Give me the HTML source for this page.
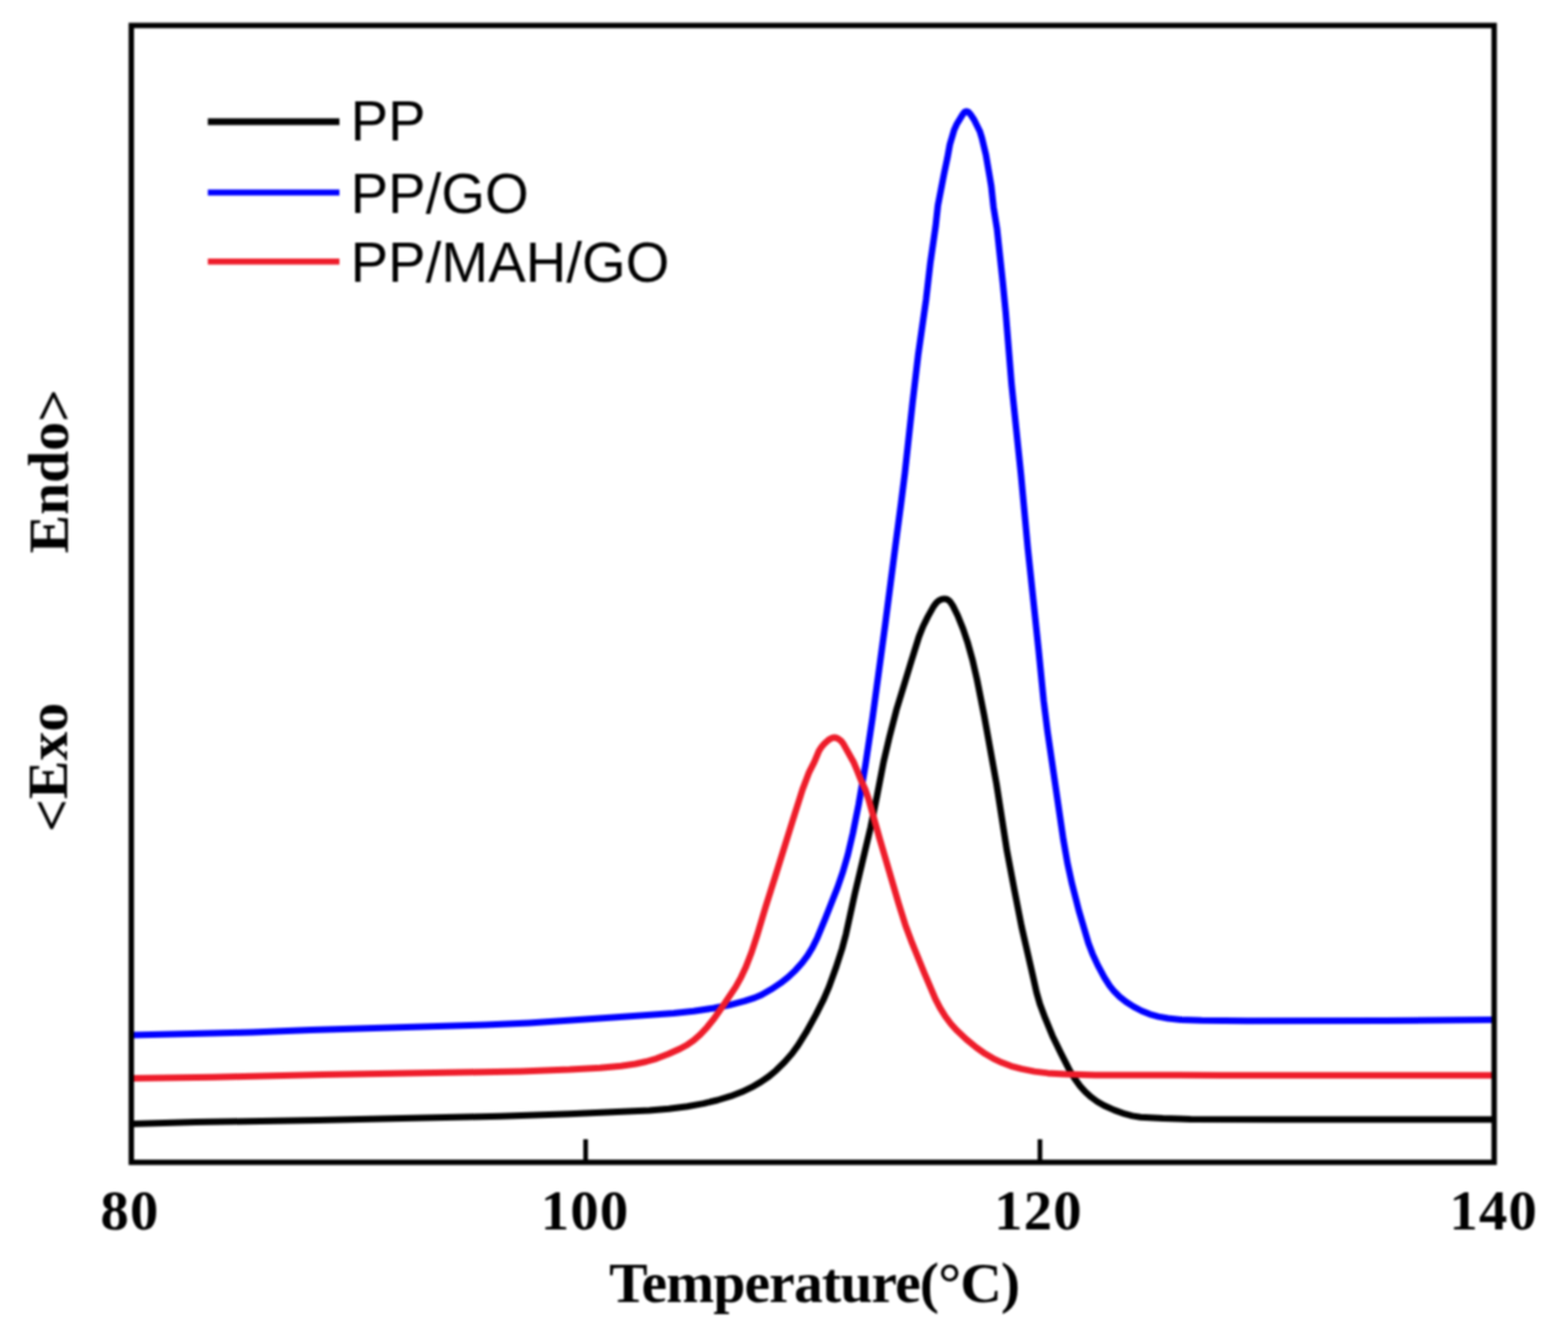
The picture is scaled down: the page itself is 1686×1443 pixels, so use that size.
<!DOCTYPE html>
<html><head><meta charset="utf-8"><title>DSC curves</title>
<style>
html,body{margin:0;padding:0;background:#fff;}
body{width:1686px;height:1443px;overflow:hidden;position:relative;}
svg{position:absolute;left:0;top:0;}
#w{position:absolute;left:0;top:0;width:1686px;height:1443px;filter:blur(1px);}
.serif{font-family:"Liberation Serif","Times New Roman",serif;font-weight:bold;fill:#000;}
.sans{font-family:"Liberation Sans",Arial,sans-serif;fill:#000;}
</style></head>
<body>
<div id="w">
<svg width="1686" height="1443" viewBox="0 0 1686 1443">
<g fill="none" stroke-width="7" stroke-linejoin="round" stroke-linecap="butt">
<path d="M142.0 1208.6L210.5 1206.6L341.0 1204.5L538.4 1200.3L612.4 1197.7L698.3 1193.9L719.2 1192.2L739.0 1189.7L756.2 1186.6L771.3 1183.0L785.6 1178.7L797.8 1174.1L808.1 1169.2L818.1 1163.4L826.7 1157.5L834.4 1151.1L843.6 1142.0L851.5 1133.0L858.0 1124.2L866.7 1110.2L877.4 1090.9L885.7 1074.4L891.4 1061.1L899.2 1039.5L905.5 1020.0L909.6 1004.6L919.1 961.2L936.1 889.7L943.1 855.4L950.1 819.1L956.3 792.8L963.9 763.3L972.1 736.5L979.1 713.5L988.0 684.9L992.4 673.7L997.5 663.4L1003.8 652.1L1006.8 648.1L1009.4 645.9L1012.5 644.4L1015.3 643.9L1017.7 644.2L1019.8 645.3L1021.9 647.3L1024.6 651.4L1029.7 661.7L1035.5 676.1L1040.3 690.3L1045.8 710.0L1050.6 731.0L1058.2 769.2L1071.5 843.0L1082.7 914.7L1090.9 957.9L1098.4 996.1L1109.9 1046.3L1114.6 1067.3L1118.2 1079.8L1123.8 1094.7L1131.6 1113.7L1140.8 1132.6L1150.1 1150.8L1155.8 1160.2L1161.4 1167.8L1167.1 1174.1L1173.4 1179.8L1179.8 1184.5L1187.2 1188.7L1198.1 1193.6L1209.4 1197.7L1217.6 1199.9L1226.4 1201.2L1250.4 1202.6L1280.4 1203.4L1374.4 1203.8L1607.0 1203.8" stroke="#000"/>
<path d="M142.0 1113.0L228.0 1111.0L271.0 1109.9L334.4 1107.4L521.8 1102.0L568.8 1099.9L652.1 1094.5L724.4 1089.4L745.8 1087.3L767.6 1084.0L783.7 1080.8L800.6 1076.4L811.5 1072.9L818.8 1069.7L829.2 1063.8L839.2 1057.2L847.4 1050.7L855.4 1043.2L862.4 1035.4L868.4 1027.4L873.6 1018.9L878.9 1008.2L887.1 988.4L900.7 953.9L906.5 936.9L911.6 919.2L917.1 895.8L923.2 865.4L930.5 823.1L938.1 772.6L951.7 672.5L962.7 587.8L968.8 541.7L973.0 508.5L981.2 433.4L987.2 382.3L995.8 321.9L1000.4 282.2L1006.0 243.6L1008.5 220.8L1015.0 187.4L1018.6 170.3L1021.3 155.5L1025.8 140.2L1028.6 133.8L1034.8 123.6L1036.8 120.9L1038.2 119.9L1039.7 119.8L1041.2 120.5L1043.5 122.9L1047.4 128.7L1053.6 141.3L1055.8 148.4L1060.1 166.4L1064.0 189.0L1065.9 200.4L1068.3 222.7L1072.1 246.4L1078.3 304.1L1081.4 335.9L1087.7 413.2L1097.8 510.1L1105.2 589.8L1116.8 699.1L1122.2 753.4L1126.3 786.1L1143.4 902.9L1147.8 928.0L1152.7 950.4L1160.0 979.0L1170.3 1014.0L1174.7 1025.6L1180.4 1037.9L1187.5 1051.1L1193.1 1059.9L1198.1 1066.1L1203.8 1071.7L1210.8 1077.3L1218.8 1082.4L1227.6 1087.0L1236.4 1090.6L1245.5 1093.1L1255.8 1095.0L1269.7 1096.4L1292.1 1097.3L1341.1 1097.8L1488.6 1097.6L1607.0 1096.5" stroke="#0000ff"/>
<path d="M142.0 1159.5L228.5 1158.3L347.0 1155.5L482.4 1153.3L560.4 1151.9L612.4 1150.1L645.3 1148.2L667.7 1146.2L683.1 1144.0L694.8 1141.5L705.8 1138.3L718.8 1133.3L731.1 1127.8L739.4 1123.2L745.9 1118.6L753.0 1112.3L760.5 1104.3L768.0 1095.0L778.6 1079.8L791.1 1061.1L796.7 1051.1L802.0 1039.8L808.1 1024.0L813.7 1006.9L823.2 975.3L834.3 940.1L852.2 882.8L862.9 849.0L870.0 830.3L875.7 819.2L880.5 807.7L883.1 803.5L886.7 799.3L891.2 795.4L894.2 793.7L896.5 793.1L898.8 793.3L901.5 794.5L904.2 796.5L906.7 799.6L917.7 819.2L921.0 827.0L925.7 838.6L930.6 849.5L934.1 859.9L945.7 901.3L966.1 970.9L973.7 995.2L980.7 1013.9L994.1 1046.8L1005.9 1074.4L1010.7 1083.7L1016.5 1093.0L1022.5 1101.0L1029.2 1108.3L1038.7 1117.2L1049.5 1126.1L1059.3 1133.1L1067.8 1138.1L1077.3 1142.6L1087.1 1146.3L1098.6 1149.4L1112.3 1152.1L1126.7 1153.9L1145.1 1155.1L1177.6 1155.9L1312.6 1156.2L1607.0 1156.2" stroke="#ee1c2a"/>

</g>
<rect x="141.2" y="27.4" width="1465.4" height="1222.4" fill="none" stroke="#000" stroke-width="5.8"/>
<g stroke="#000" stroke-width="5">
<line x1="629.7" y1="1225" x2="629.7" y2="1249"/>
<line x1="1118.2" y1="1225" x2="1118.2" y2="1249"/>
</g>
<g class="serif" font-size="61" text-anchor="middle" letter-spacing="1.2">
<text x="139.8" y="1321.5">80</text>
<text x="629.1" y="1321.5">100</text>
<text x="1116.6" y="1321.5">120</text>
<text x="1606.1" y="1321.5">140</text>
</g>
<text class="serif" font-size="62" x="655" y="1400" textLength="442" lengthAdjust="spacing">Temperature(°C)</text>
<text class="serif" font-size="62" transform="translate(73,595) rotate(-90)">Endo<tspan dy="4.5">&gt;</tspan></text>
<text class="serif" font-size="62" transform="translate(71.5,894.5) rotate(-90)"><tspan dy="4.5">&lt;</tspan><tspan dy="-4.5">Exo</tspan></text>
<g stroke-width="6.5" stroke-linecap="butt">
<line x1="223.5" y1="130.8" x2="365" y2="130.8" stroke="#000" stroke-width="7.2"/>
<line x1="223.5" y1="207" x2="365" y2="207" stroke="#0000ff"/>
<line x1="223.5" y1="281.2" x2="365" y2="281.2" stroke="#ee1c2a"/>
</g>
<g class="sans" font-size="60.5">
<text x="377" y="151">PP</text>
<text x="377" y="228.5">PP/GO</text>
<text x="377" y="303">PP/MAH/GO</text>
</g>
</svg>
</div>
</body></html>
